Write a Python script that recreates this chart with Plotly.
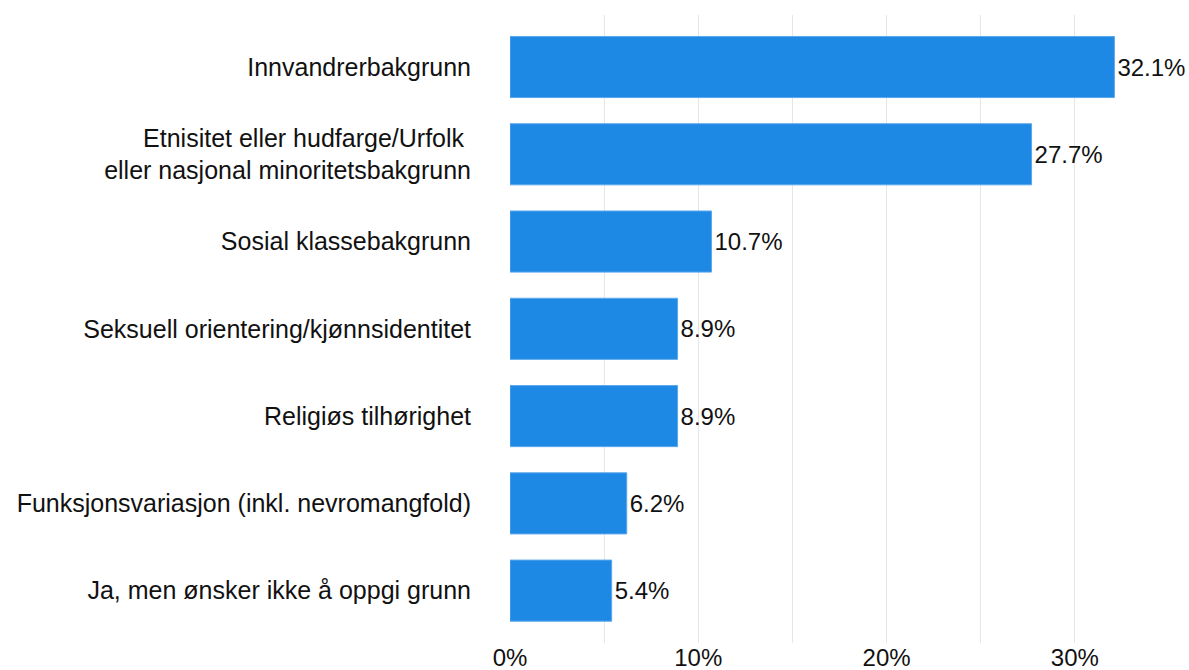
import plotly.graph_objects as go

categories = [
    "Innvandrerbakgrunn",
    "Etnisitet eller hudfarge/Urfolk <br>eller nasjonal minoritetsbakgrunn",
    "Sosial klassebakgrunn",
    "Seksuell orientering/kjønnsidentitet",
    "Religiøs tilhørighet",
    "Funksjonsvariasjon (inkl. nevromangfold)",
    "Ja, men ønsker ikke å oppgi grunn",
]
values = [32.1, 27.7, 10.7, 8.9, 8.9, 6.2, 5.4]
value_labels = [f"{v:.1f}%" for v in values]
x_tickvals = [0, 10, 20, 30]
x_ticktext = ["0%", "10%", "20%", "30%"]

FONT = "Liberation Sans, Arial, Helvetica, sans-serif"
FS = 25

fig = go.Figure(
    go.Bar(
        x=values,
        y=categories,
        orientation="h",
        width=0.7,
        marker=dict(color="#1E88E5", line=dict(color="#5AA7EC", width=1)),
        text=value_labels,
        textposition="outside",
        textfont=dict(size=24, color="#111111", family=FONT),
        cliponaxis=False,
        hoverinfo="skip",
    )
)

fig.update_layout(
    width=1189,
    height=670,
    margin=dict(l=510, r=20, t=15, b=27, autoexpand=False),
    paper_bgcolor="white",
    plot_bgcolor="white",
    showlegend=False,
    font=dict(family=FONT, size=FS, color="#111111"),
)

fig.update_xaxes(
    range=[0, 35],
    tickvals=x_tickvals,
    ticktext=x_ticktext,
    showgrid=True,
    gridcolor="#E6E6E6",
    gridwidth=1,
    minor=dict(tickvals=[5, 15, 25, 35], showgrid=True, gridcolor="#E6E6E6", gridwidth=1),
    zeroline=False,
    showline=False,
    ticks="",
    automargin=False,
    ticklabelstandoff=-2,
    tickfont=dict(size=24, family=FONT, color="#111111"),
)

fig.update_yaxes(
    type="category",
    categoryorder="array",
    categoryarray=categories,
    range=[6.60, -0.596],
    showgrid=False,
    zeroline=False,
    showline=False,
    ticks="",
    automargin=False,
    ticklabelstandoff=38,
    tickfont=dict(size=FS, family=FONT, color="#111111"),
)

fig.write_html(
    "out.html",
    config={"displayModeBar": False},
    post_script="document.body.style.margin='0';document.body.style.overflow='hidden';",
)
